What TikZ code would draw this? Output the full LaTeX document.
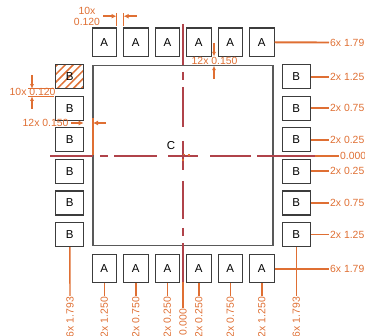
\documentclass[tikz,border=0pt]{standalone}
\usepackage{fontspec}
\setmainfont{Liberation Sans}
\usetikzlibrary{patterns.meta,arrows.meta}
\definecolor{dimorange}{HTML}{DF6F33}
\definecolor{axisred}{HTML}{B0434A}
\definecolor{padgray}{HTML}{3C3C3C}
\tikzset{
	pada/.style={draw=padgray,line width=1.1pt,minimum width=24.5pt,minimum height=28.5pt,inner sep=0pt,font=\fontsize{11.5}{12}\selectfont},
	padb/.style={draw=padgray,line width=1.1pt,minimum width=28pt,minimum height=24pt,inner sep=0pt,font=\fontsize{11.5}{12}\selectfont},
	dimtext/.style={text=dimorange,inner sep=1pt,font=\fontsize{10.4}{12}\selectfont},
	dimline/.style={draw=dimorange,line width=1.4pt},
	dimlineh/.style={draw=dimorange,line width=1.9pt},
	dimarrow/.style={dimline,-{Latex[length=4.5pt,width=4pt]}},
	dimarrowh/.style={dimline,-{Latex[length=5pt,width=5pt]}},
	axisline/.style={draw=axisred,line width=1.2pt},
	axislineh/.style={draw=axisred,line width=2pt},
}
\begin{document}
\begin{tikzpicture}[x=1pt,y=-1pt]
	\useasboundingbox (0,0) rectangle (365,336);
	
	%body
	\node[draw=padgray!85,line width=1.1pt,minimum width=180pt,minimum height=180pt,inner sep=0pt] (body) at (183,155.7) {};
	
	%center lines
	\draw[axislineh] (50,155.7)--(93,155.7) (100,155.7)--(108,155.7) (114,155.7)--(157,155.7);
	\draw[axislineh] (168,155.7)--(198,155.7) (210,155.7)--(251,155.7) (257,155.7)--(315,155.7);
	\draw[axisline] (183,24)--(183,64.7) (183,72)--(183,80) (183,87)--(183,127);
	\draw[axisline] (183,141)--(183,170) (183,181)--(183,219) (183,228)--(183,236) (183,243)--(183,282);
	\draw[dimline] (183,154.8)--(184.5,154.8) (187.5,155)--(190,155) (183,159)--(183,161);
	\node (center) at (171,146) {\fontsize{11.5}{12}\selectfont C};
	
	%top pads
	\node[pada] (top1) at (104.3,42.3) {A};
	\node[pada] (top2) at (135.8,42.3) {A};
	\node[pada] (top3) at (167.4,42.3) {A};
	\node[pada] (top4) at (198.8,42.3) {A};
	\node[pada] (top5) at (230.3,42.3) {A};
	\node[pada] (top6) at (261.8,42.3) {A};
	
	%bottom pads
	\node[pada] (bot1) at (104.3,268.7) {A};
	\node[pada] (bot2) at (135.8,268.7) {A};
	\node[pada] (bot3) at (167.4,268.7) {A};
	\node[pada] (bot4) at (198.8,268.7) {A};
	\node[pada] (bot5) at (230.3,268.7) {A};
	\node[pada] (bot6) at (261.8,268.7) {A};
	
	%left pads
	\node[padb,pattern={Lines[angle=45,distance=5.6pt,line width=1.5pt]},pattern color=dimorange] (left1) at (69.8,76.7) {};
	\node (left1txt) at (left1) {\fontsize{11.5}{12}\selectfont B};
	\node[padb] (left2) at (69.8,108.2) {B};
	\node[padb] (left3) at (69.8,139.8) {B};
	\node[padb] (left4) at (69.8,171.3) {B};
	\node[padb] (left5) at (69.8,203) {B};
	\node[padb] (left6) at (69.8,234.5) {B};
	
	%right pads
	\node[padb] (right1) at (296.3,76.7) {B};
	\node[padb] (right2) at (296.3,108.2) {B};
	\node[padb] (right3) at (296.3,139.8) {B};
	\node[padb] (right4) at (296.3,171.3) {B};
	\node[padb] (right5) at (296.3,203) {B};
	\node[padb] (right6) at (296.3,234.5) {B};
	
	%labels on the right
	\node[dimtext,anchor=west] (lbltop) at (329,42.5) {6x 1.79};
	\node[dimtext,anchor=west] (lblr1) at (329,76.7) {2x 1.25};
	\node[dimtext,anchor=west] (lblr2) at (329,108.2) {2x 0.75};
	\node[dimtext,anchor=west] (lblr3) at (329,139.8) {2x 0.25};
	\node[dimtext,anchor=west] (lblmidx) at (339,155.7) {0.000};
	\node[dimtext,anchor=west] (lblr4) at (329,171.3) {2x 0.25};
	\node[dimtext,anchor=west] (lblr5) at (329,203) {2x 0.75};
	\node[dimtext,anchor=west] (lblr6) at (329,234.5) {2x 1.25};
	\node[dimtext,anchor=west] (lblbot) at (329,268.7) {6x 1.79};
	
	%labels at the bottom
	\node[dimtext,rotate=90,anchor=east] (lblleft) at (70,296) {6x 1.793};
	\node[dimtext,rotate=90,anchor=east] (lblb1) at (104.3,296) {2x 1.250};
	\node[dimtext,rotate=90,anchor=east] (lblb2) at (135.8,296) {2x 0.750};
	\node[dimtext,rotate=90,anchor=east] (lblb3) at (167.4,296) {2x 0.250};
	\node[dimtext,rotate=90,anchor=east] (lblmidy) at (183,308) {0.000};
	\node[dimtext,rotate=90,anchor=east] (lblb4) at (198.8,296) {2x 0.250};
	\node[dimtext,rotate=90,anchor=east] (lblb5) at (230.3,296) {2x 0.750};
	\node[dimtext,rotate=90,anchor=east] (lblb6) at (261.8,296) {2x 1.250};
	\node[dimtext,rotate=90,anchor=east] (lblright) at (296.3,296) {6x 1.793};
	
	%leaders
	\draw[dimlineh] (top6.east)--(lbltop.west);
	\draw[dimlineh] (bot6.east)--(lblbot.west);
	\draw[dimlineh] (right1.east)--(lblr1.west);
	\draw[dimlineh] (right2.east)--(lblr2.west);
	\draw[dimlineh] (right3.east)--(lblr3.west);
	\draw[dimlineh] (right4.east)--(lblr4.west);
	\draw[dimlineh] (right5.east)--(lblr5.west);
	\draw[dimlineh] (right6.east)--(lblr6.west);
	\draw[dimline] (left6.south)--(lblleft.east);
	\draw[dimline] (right6.south)--(lblright.east);
	\draw[dimline] (bot1.south)--(lblb1.east);
	\draw[dimline] (bot2.south)--(lblb2.east);
	\draw[dimline] (bot3.south)--(lblb3.east);
	\draw[dimline] (bot4.south)--(lblb4.east);
	\draw[dimline] (bot5.south)--(lblb5.east);
	\draw[dimline] (bot6.south)--(lblb6.east);
	\coordinate (midxfree) at (315,155.7);
	\coordinate (midyfree) at (183,282);
	\draw[dimlineh] (midxfree)--(lblmidx.west);
	\draw[dimline] (midyfree)--(lblmidy.east);
	
	%gap between top pads
	\node[dimtext,align=center] (lblgap) at (87,16.5) {10x\\[-1pt]0.120};
	\coordinate (gapl) at (116.5,26);
	\coordinate (gapr) at (123.7,26);
	\coordinate (gapltop) at (116.5,13);
	\coordinate (gaprtop) at (123.7,13);
	\coordinate (gaplfree) at (103,16.2);
	\coordinate (gaprfree) at (136.5,16.2);
	\draw[dimline] (gapl)--(gapltop);
	\draw[dimline] (gapr)--(gaprtop);
	\draw[dimarrowh] (gaplfree)--(gaplfree-|gapl);
	\draw[dimarrowh] (gaprfree)--(gaprfree-|gapr);
	
	%gap between left pads
	\node[dimtext,anchor=west] (lblvgap) at (8.5,92.4) {10x 0.120};
	\coordinate (vgapt) at (28,88.7);
	\coordinate (vgapb) at (28,96.3);
	\coordinate (vgaptend) at (54,88.7);
	\coordinate (vgapbend) at (54,96.3);
	\coordinate (vgaptfree) at (32,75);
	\coordinate (vgapbfree) at (32,109);
	\draw[dimline] (vgapt)--(vgaptend);
	\draw[dimline] (vgapb)--(vgapbend);
	\draw[dimarrow] (vgaptfree)--(vgaptfree|-vgapt);
	\draw[dimarrow] (vgapbfree)--(vgapbfree|-vgapb);
	
	%pad to body, left
	\node[dimtext,anchor=west] (lblhclear) at (21.5,123) {12x 0.150};
	\coordinate (hclearl) at (83.7,123);
	\coordinate (hclearr) at (93,123);
	\coordinate (hclearlfree) at (71,123);
	\coordinate (hclearrfree) at (106,123);
	\coordinate (hcleartop) at (93,118);
	\coordinate (hclearbot) at (93,155);
	\draw[dimline] (hcleartop)--(hclearbot);
	\draw[dimarrowh] (hclearlfree)--(hclearl);
	\draw[dimarrowh] (hclearrfree)--(hclearr);
	
	%pad to body, top
	\node[dimtext,anchor=west] (lblvclear) at (190.5,61) {12x 0.150};
	\coordinate (vcleart) at (214,56.5);
	\coordinate (vclearb) at (214,65.7);
	\coordinate (vcleartfree) at (214,43);
	\coordinate (vclearbfree) at (214,79);
	\draw[dimarrow] (vcleartfree)--(vcleart);
	\draw[dimarrow] (vclearbfree)--(vclearb);
\end{tikzpicture}
\end{document}
